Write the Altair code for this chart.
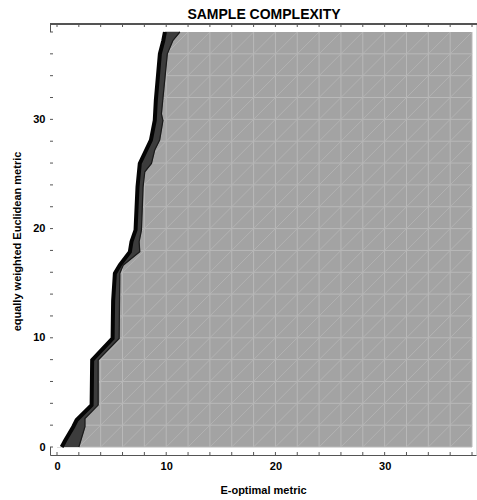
import altair as alt
import pandas as pd

# ---- data ----
# outer (left) edge of the boundary band: y -> x
left_y = [0.0, 0.6, 1.2, 1.86, 2.47, 3.84, 7.96, 9.94, 13.4, 15.9, 16.65, 17.87, 18.8, 19.85,
          23.8, 25.96, 28.1, 29.9, 31.75, 36.0, 37.2, 38.0]
left_x = [0.43, 0.75, 1.1, 1.49, 1.8, 3.17, 3.22, 5.09, 5.14, 5.3, 5.75, 6.67, 6.82, 7.19,
          7.37, 7.58, 8.6, 8.95, 9.05, 9.42, 9.73, 9.88]
# inner (right) edge of the boundary band: y -> x
right_y = [0.0, 1.86, 2.6, 3.84, 7.96, 9.94, 15.9, 16.65, 17.87, 18.8, 19.85, 23.8, 25.2,
           25.96, 27.2, 28.1, 29.9, 30.5, 36.0, 37.2, 38.0]
right_x = [2.0, 2.56, 2.56, 3.77, 3.77, 5.69, 5.75, 6.06, 7.58, 7.52, 7.73, 7.88, 8.04,
           8.65, 8.95, 9.4, 9.7, 9.56, 10.1, 10.6, 11.25]

region_lo, region_hi = 0, 38
mesh_x_vals = list(range(0, 39, 2))
mesh_y_vals = list(range(0, 37, 2))
diag_offsets = list(range(-36, 37, 2))
label_vals = [0, 10, 20, 30]
minor_ticks = list(range(0, 39, 2))
title_text = ["SAMPLE COMPLEXITY"]

X_DOM = [-0.641, 38.366]
Y_DOM = [-0.7323, 38.7325]
W, H = 426, 431
FONT = "Liberation Sans"

xs = alt.Scale(domain=X_DOM, nice=False, zero=False)
ys = alt.Scale(domain=Y_DOM, nice=False, zero=False)
ax_x = alt.Axis(values=label_vals, title="E-optimal metric", grid=False, ticks=False,
                labelFont=FONT, labelFontSize=11, labelFontWeight="bold", labelColor="black",
                labelPadding=5, domainColor="#555555", domainWidth=1,
                titleFont=FONT, titleFontSize=11, titleFontWeight="bold", titleColor="black",
                titleX=W / 2, titleY=38, titleAlign="center", titleBaseline="alphabetic")
ax_y = alt.Axis(values=label_vals, title="equally weighted Euclidean metric", grid=False, ticks=False,
                labelFont=FONT, labelFontSize=11, labelFontWeight="bold", labelColor="black",
                labelPadding=5, domainColor="#555555", domainWidth=1,
                titleFont=FONT, titleFontSize=11, titleFontWeight="bold", titleColor="black",
                titleX=-30, titleY=217, titleAngle=-90, titleAlign="center", titleBaseline="alphabetic")

def X(f):
    return alt.X(f, type="quantitative", scale=xs, axis=ax_x)

def Y(f):
    return alt.Y(f, type="quantitative", scale=ys, axis=ax_y)

region_df = pd.DataFrame({"x": [region_lo], "x2": [region_hi], "y": [region_lo], "y2": [region_hi]})
base_rect = alt.Chart(region_df).mark_rect(color="#a3a3a3").encode(
    x=X("x"), x2="x2", y=Y("y"), y2="y2")

vdf = pd.DataFrame({"x": mesh_x_vals, "x2": mesh_x_vals,
                    "y": [region_lo] * len(mesh_x_vals), "y2": [region_hi] * len(mesh_x_vals)})
hdf = pd.DataFrame({"y": mesh_y_vals, "y2": mesh_y_vals,
                    "x": [region_lo] * len(mesh_y_vals), "x2": [region_hi] * len(mesh_y_vals)})
mesh_v = alt.Chart(vdf).mark_rule(color="#b9b9b9", strokeWidth=1).encode(
    x=X("x"), x2="x2", y=Y("y"), y2="y2")
mesh_h = alt.Chart(hdf).mark_rule(color="#b9b9b9", strokeWidth=1).encode(
    x=X("x"), x2="x2", y=Y("y"), y2="y2")

drows = []
for c in diag_offsets:
    x1 = max(region_lo, region_lo - c)
    x2 = min(region_hi, region_hi - c)
    drows.append({"x": x1, "y": x1 + c, "x2": x2, "y2": x2 + c})
ddf = pd.DataFrame(drows)
mesh_d = alt.Chart(ddf).mark_rule(color="#b6b6b6", strokeWidth=0.8).encode(
    x=X("x"), x2="x2", y=Y("y"), y2="y2")

rdf = pd.DataFrame({"y": right_y, "x": right_x, "i": list(range(len(right_y)))})
ldf = pd.DataFrame({"y": left_y, "x": left_x, "x0": [X_DOM[0]] * len(left_y),
                    "i": list(range(len(left_y)))})

# band polygon: left edge upward, then right edge downward
poly = pd.DataFrame({
    "x": left_x + right_x[::-1],
    "y": left_y + right_y[::-1],
    "i": list(range(len(left_x) + len(right_x))),
})

white = alt.Chart(ldf).mark_area(orient="horizontal", color="white", opacity=1).encode(
    y=Y("y"), x=X("x0"), x2="x")
band = alt.Chart(poly).mark_line(fill="#3c3c3c", stroke="#3c3c3c", strokeWidth=0.5,
                                 strokeJoin="miter").encode(
    x=X("x"), y=Y("y"), order="i:Q")
left_line = alt.Chart(ldf).mark_line(color="#050505", strokeWidth=4).encode(
    x=X("x"), y=Y("y"), order="i:Q")
right_line = alt.Chart(rdf).mark_line(color="#1a1a1a", strokeWidth=1.2).encode(
    x=X("x"), y=Y("y"), order="i:Q")

tdf = pd.DataFrame({"t": minor_ticks})
tick_b = alt.Chart(tdf).mark_rule(color="#555555", strokeWidth=1).encode(
    x=X("t"), y=alt.value(H), y2=alt.value(H - 3))
tick_t = alt.Chart(tdf).mark_rule(color="#555555", strokeWidth=1).encode(
    x=X("t"), y=alt.value(0), y2=alt.value(3))
tick_l = alt.Chart(tdf).mark_rule(color="#555555", strokeWidth=1).encode(
    y=Y("t"), x=alt.value(0), x2=alt.value(3))
top_line = alt.Chart(tdf).mark_rule(color="#555555", strokeWidth=1).encode(
    x=alt.value(0), x2=alt.value(W + 1), y=alt.value(0))

title = alt.Chart(pd.DataFrame({"t": title_text})).mark_text(
    font=FONT, fontSize=14, fontWeight="bold", color="black", align="center",
    baseline="alphabetic").encode(text="t:N", x=alt.value(W / 2 + 1), y=alt.value(-5))

chart = alt.layer(base_rect, mesh_v, mesh_h, mesh_d, white, band, left_line, right_line,
                  tick_b, tick_t, tick_l, top_line, title).properties(
    width=W, height=H,
    autosize=alt.AutoSizeParams(type="none"),
    padding={"left": 50, "top": 24, "right": 1, "bottom": 45},
).configure_view(stroke="transparent").configure(background="white")

chart.save("out.html", embed_options={"renderer": "svg", "actions": False})
